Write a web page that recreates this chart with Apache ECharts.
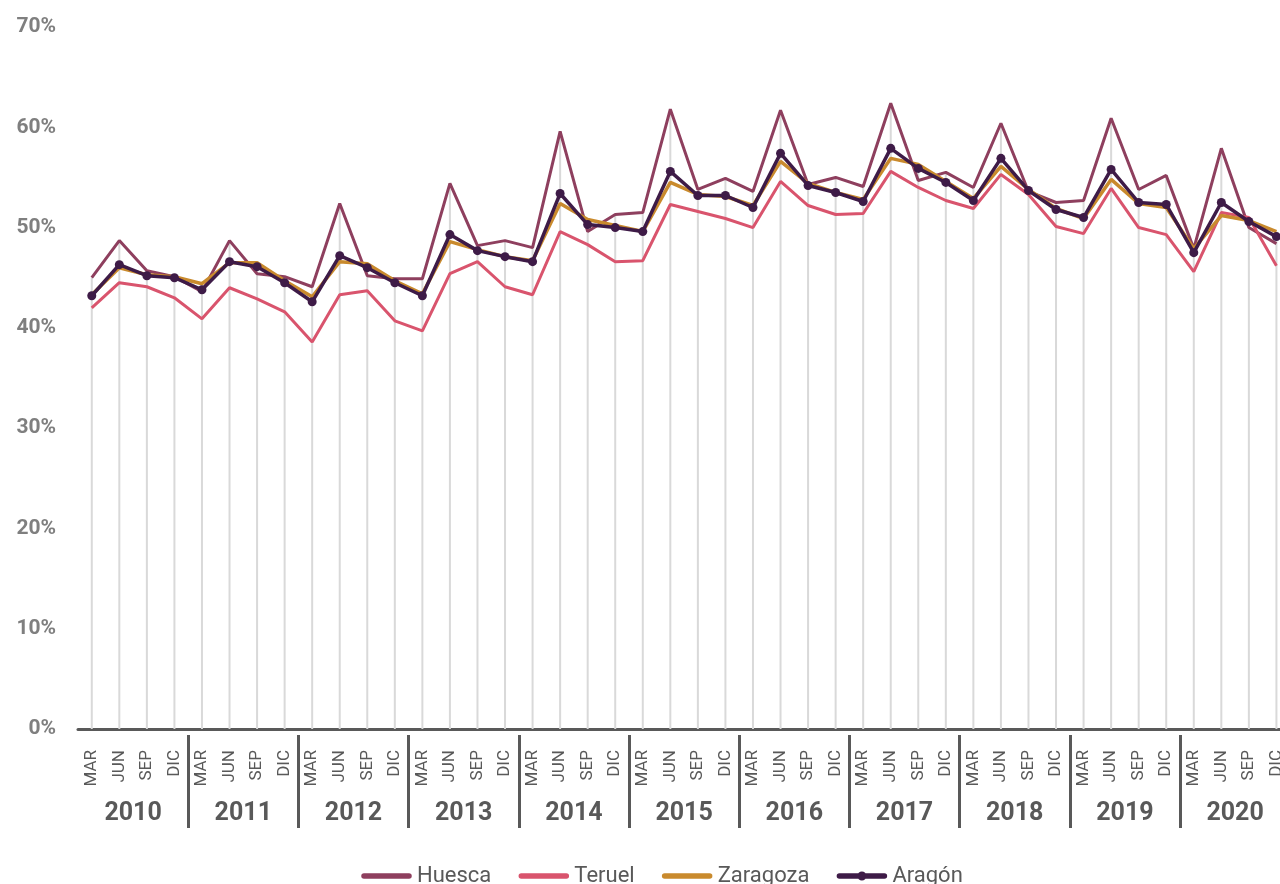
<!DOCTYPE html>
<html>
<head>
<meta charset="utf-8">
<script src="https://cdn.jsdelivr.net/npm/echarts@6/dist/echarts.min.js"></script>
<style>
html,body{margin:0;padding:0;background:#fff;}
#chart{width:1280px;height:884px;}
</style>
</head>
<body>
<div id="chart"></div>
<script>
const years = ['2010','2011','2012','2013','2014','2015','2016','2017','2018','2019','2020'];
const quarters = ['MAR','JUN','SEP','DIC'];
const yTicks = [0,10,20,30,40,50,60,70];

const huesca = [45.0,48.7,45.7,45.1, 43.6,48.7,45.4,45.1, 44.1,52.4,45.2,44.9,
  44.9,54.4,48.2,48.7, 48.0,59.6,49.6,51.3, 51.5,61.8,53.8,54.9,
  53.6,61.7,54.3,55.0, 54.1,62.4,54.7,55.5, 54.0,60.4,53.6,52.5,
  52.7,60.9,53.8,55.2, 47.9,57.9,50.0,48.4];
const teruel = [42.0,44.5,44.1,43.0, 40.9,44.0,42.9,41.6, 38.6,43.3,43.7,40.7,
  39.7,45.4,46.6,44.1, 43.3,49.6,48.3,46.6, 46.7,52.3,51.6,50.9,
  50.0,54.6,52.2,51.3, 51.4,55.6,54.0,52.7, 51.9,55.3,53.3,50.1,
  49.4,53.9,50.0,49.3, 45.6,51.5,51.0,46.2];
const zaragoza = [43.3,46.0,45.3,45.1, 44.4,46.5,46.5,44.7, 43.1,46.6,46.4,44.7,
  43.4,48.6,47.8,47.1, 46.7,52.4,50.8,50.2, 49.6,54.5,53.3,53.1,
  52.2,56.6,54.4,53.5, 52.8,56.9,56.3,54.6, 52.9,56.1,53.8,51.9,
  50.9,54.8,52.4,52.0, 47.9,51.2,50.7,49.6];
const aragon = [43.2,46.3,45.2,45.0, 43.8,46.6,46.1,44.5, 42.6,47.2,46.0,44.5,
  43.2,49.3,47.7,47.1, 46.6,53.4,50.3,50.0, 49.6,55.6,53.2,53.2,
  52.0,57.4,54.2,53.5, 52.6,57.9,55.9,54.5, 52.7,56.9,53.7,51.8,
  51.0,55.8,52.5,52.3, 47.5,52.5,50.6,49.1];

const months = [];
years.forEach(() => quarters.forEach(q => months.push(q)));
const dropTop = huesca.map((v, i) => Math.max(v, teruel[i], zaragoza[i], aragon[i]));

const FONT = 'Roboto';
const LINE_ICON = 'path://M0,0M3,2.25H48A2.75,2.75 0 0 1 48,7.75H3A2.75,2.75 0 0 1 3,2.25ZM51,10';
const DOT_ICON = 'path://M0,0M3,2.25H48A2.75,2.75 0 0 1 48,7.75H3A2.75,2.75 0 0 1 3,2.25ZM30,5A4.5,4.5 0 1 1 21,5A4.5,4.5 0 1 1 30,5ZM51,10';

const chart = echarts.init(document.getElementById('chart'));
chart.setOption({
  animation: false,
  backgroundColor: '#ffffff',
  textStyle: {fontFamily: FONT},
  grid: {left: 78, width: 1212.2, top: 27, bottom: 155, containLabel: false, outerBoundsMode: 'none'},
  legend: {
    left: 356, top: 860,
    itemWidth: 51, itemHeight: 10, itemGap: 27,
    textStyle: {fontFamily: FONT, fontSize: 22, color: '#595959'},
    data: [
      {name: 'Huesca', icon: LINE_ICON},
      {name: 'Teruel', icon: LINE_ICON},
      {name: 'Zaragoza', icon: LINE_ICON},
      {name: 'Aragón', icon: DOT_ICON}
    ]
  },
  xAxis: [{
    type: 'category', data: months, boundaryGap: true, position: 'bottom',
    axisLine: {show: true, lineStyle: {color: '#595959', width: 3}},
    axisTick: {show: false},
    splitLine: {show: false},
    axisLabel: {interval: 0, rotate: 90, fontSize: 17, color: '#595959', margin: 21, fontFamily: FONT}
  }, {
    type: 'category', data: years, boundaryGap: true, position: 'bottom', offset: 6,
    axisLine: {show: false},
    axisTick: {show: true, length: 93, lineStyle: {color: '#595959', width: 3},
      interval: function (i) { return i > 0; }},
    axisLabel: {interval: 0, fontSize: 25, fontWeight: 'bold', color: '#595959', margin: 66, fontFamily: FONT}
  }],
  yAxis: {
    type: 'value', min: 0, max: 70, interval: 10,
    axisLine: {show: false}, axisTick: {show: false}, splitLine: {show: false},
    axisLabel: {formatter: '{value}%', fontSize: 21, fontWeight: 'bold', color: '#7f7f7f', margin: 22, fontFamily: FONT}
  },
  series: [{
    name: 'drop', type: 'bar', data: dropTop, barWidth: 2, silent: true, z: 1,
    itemStyle: {color: '#d9d9d9'}
  }, {
    name: 'Huesca', type: 'line', data: huesca, symbol: 'none', z: 3,
    lineStyle: {color: '#8e3f5e', width: 3}, itemStyle: {color: '#8e3f5e'}
  }, {
    name: 'Teruel', type: 'line', data: teruel, symbol: 'none', z: 3,
    lineStyle: {color: '#d9546d', width: 3}, itemStyle: {color: '#d9546d'}
  }, {
    name: 'Zaragoza', type: 'line', data: zaragoza, symbol: 'none', z: 4,
    lineStyle: {color: '#c98a2d', width: 3.5}, itemStyle: {color: '#c98a2d'}
  }, {
    name: 'Aragón', type: 'line', data: aragon, symbol: 'circle', symbolSize: 9, z: 5,
    lineStyle: {color: '#3e1b47', width: 3.5}, itemStyle: {color: '#3e1b47'}
  }]
});
</script>
</body>
</html>
